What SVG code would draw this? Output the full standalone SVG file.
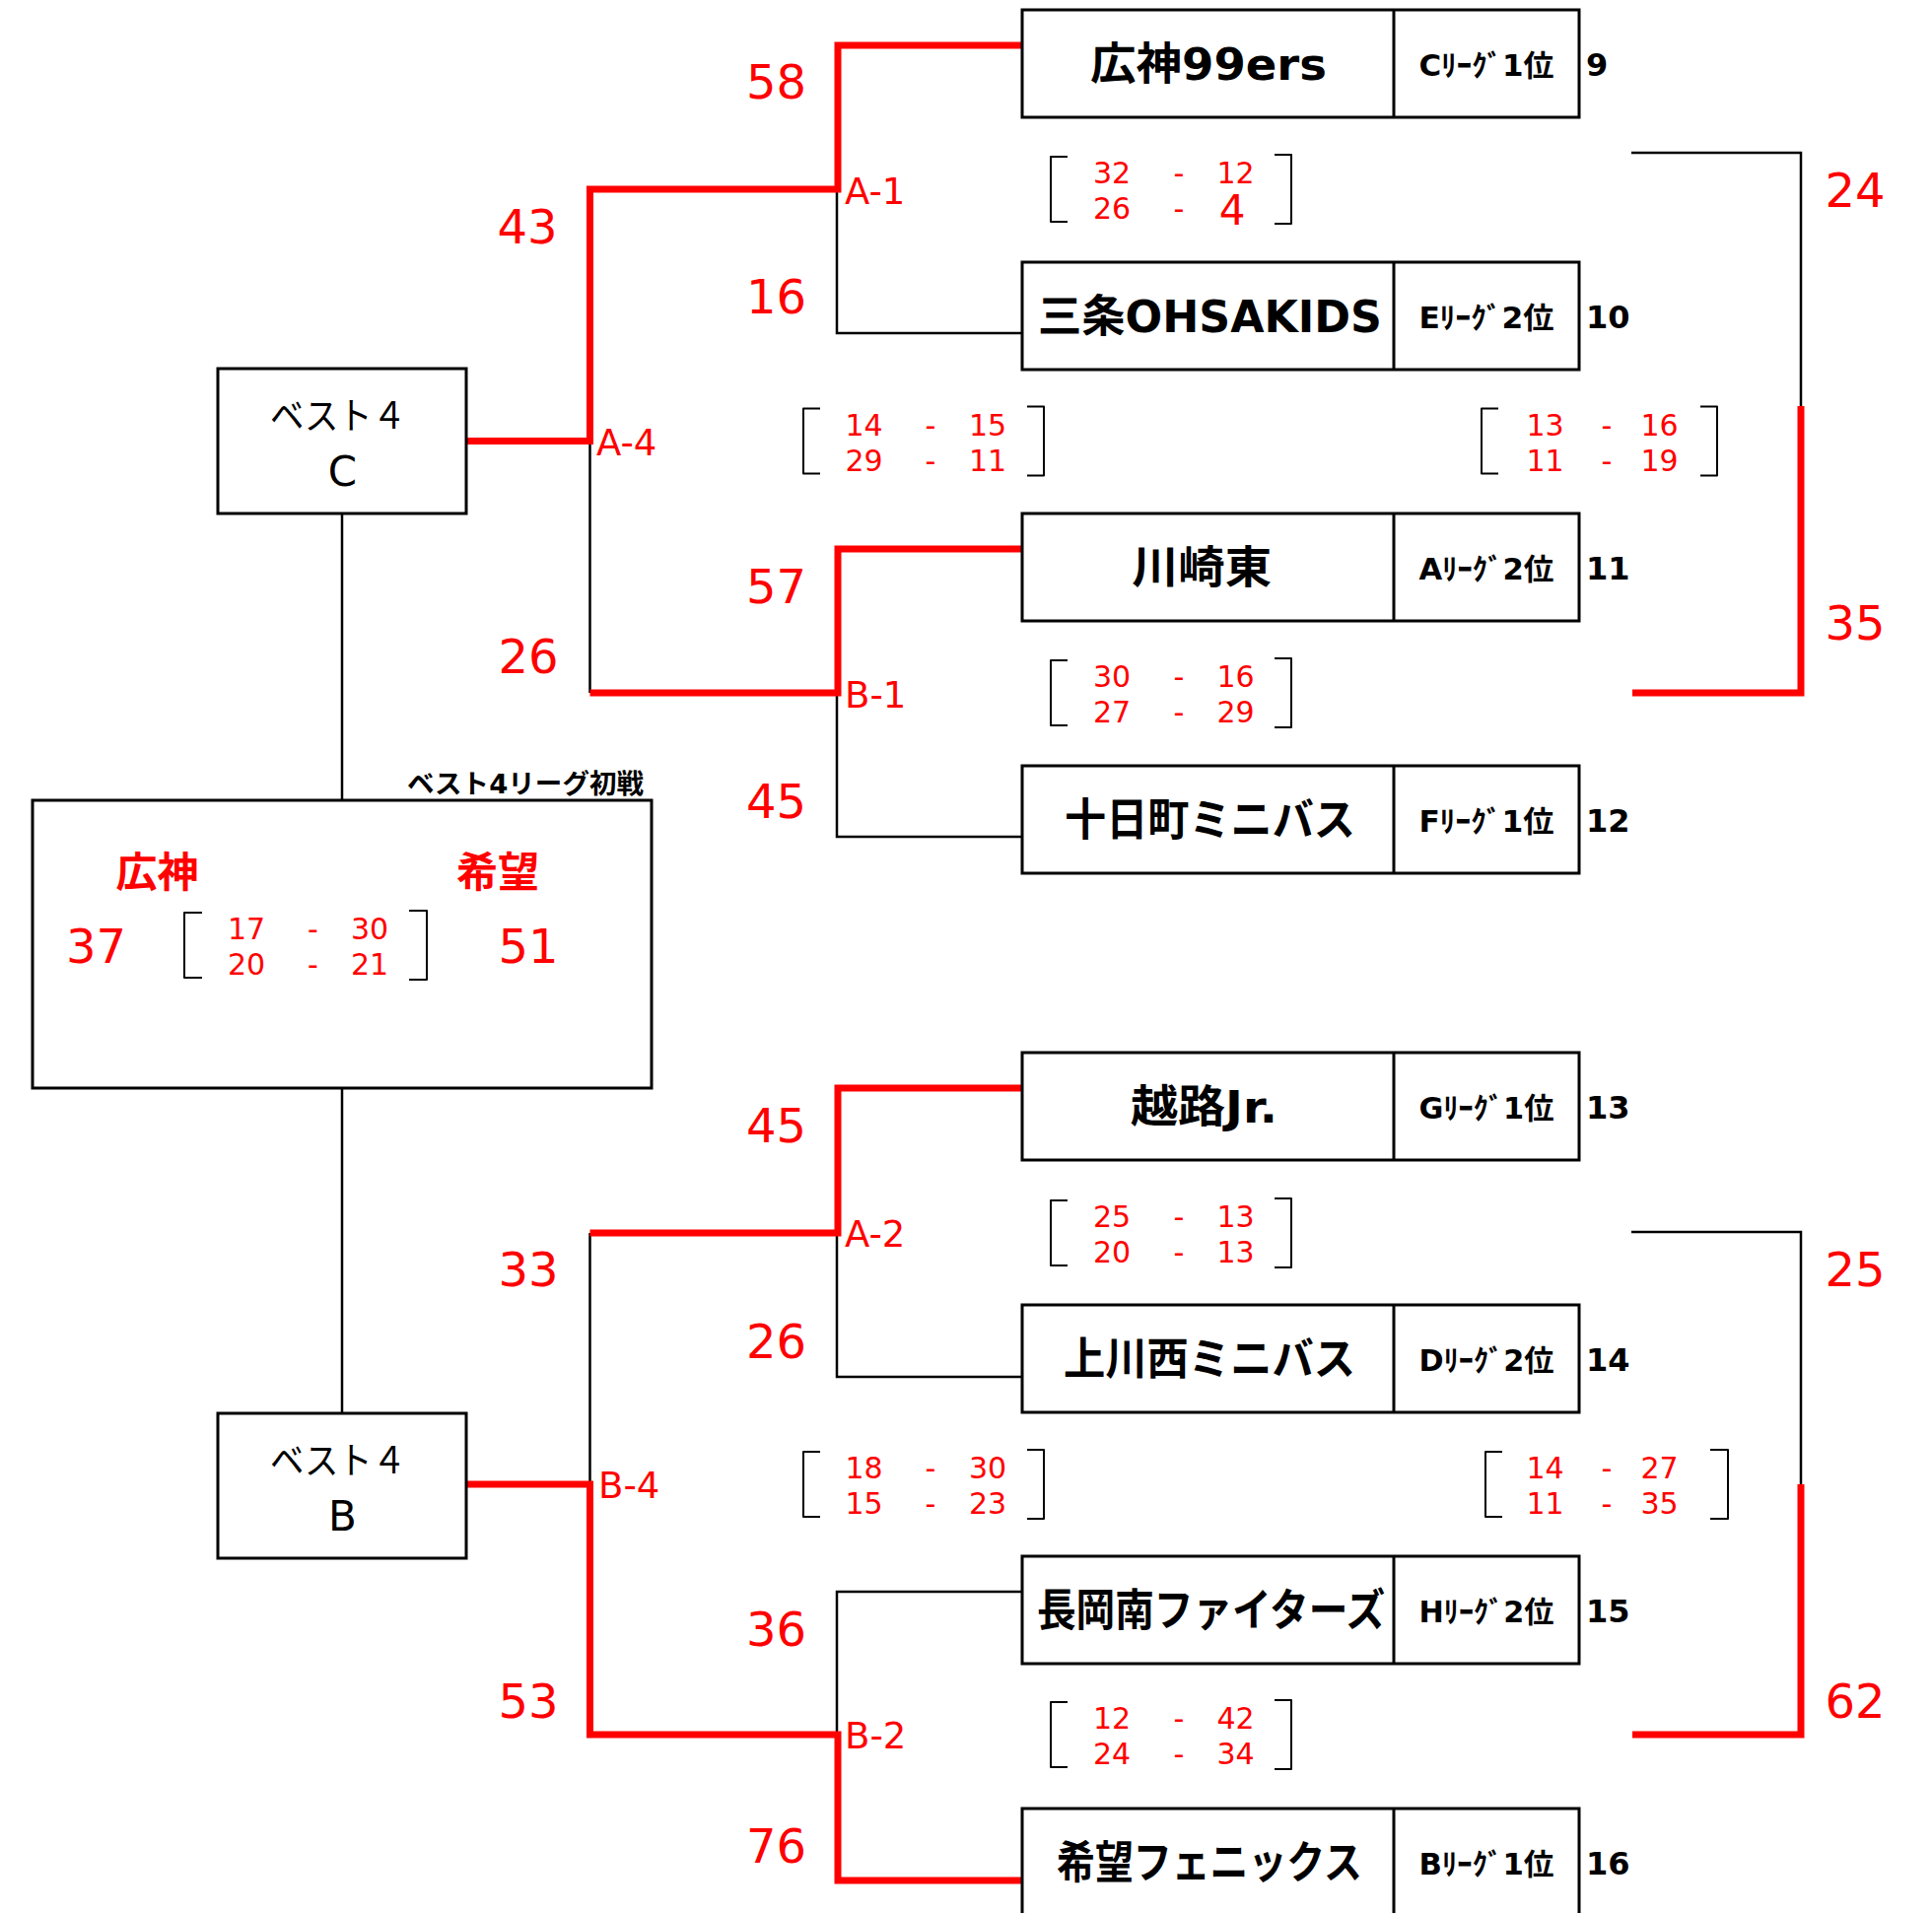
<svg xmlns="http://www.w3.org/2000/svg" width="1960" height="1941" viewBox="0 0 1960 1941">
<style>
.bk{stroke:#000;stroke-width:2.5;fill:none}
.rd{stroke:#f00;stroke-width:7;fill:none}
.box{fill:#fff;stroke:#000;stroke-width:3}
.dv{stroke:#000;stroke-width:3}
.br{fill:none;stroke:#000;stroke-width:2;stroke-linejoin:round}
text{font-family:"DejaVu Sans","Noto Sans CJK JP",sans-serif}
.name{font-weight:700;font-size:45px;text-anchor:middle;fill:#000}
.lg{font-weight:700;font-size:30px;text-anchor:middle;fill:#000}
.seed{font-weight:700;font-size:32px;fill:#000}
.sc{fill:#f00;font-size:30px;text-anchor:middle}
.big{fill:#f00;font-size:48px;text-anchor:middle}
.rl{fill:#f00;font-size:37px}
.b4{font-size:38px;fill:#000;font-family:"Noto Sans CJK JP","DejaVu Sans",sans-serif}
.b4l{font-size:42px;text-anchor:middle;fill:#000}
.rt{font-weight:700;font-size:42px;text-anchor:middle;fill:#f00;font-family:"Noto Sans CJK JP",sans-serif}
.hd{font-weight:700;font-size:27px;fill:#000}
</style>

<g id="connectors">
<path class="bk" d="M1037,338 H849 V192 M1037,849 H849 V703 M598.5,447.5 V703"/>
<path class="bk" d="M1037,1397 H849 V1251 M1037,1615 H849 V1760 M598.5,1251 V1506"/>
<path class="bk" d="M347,521 V812 M347,1104 V1434"/>
<path class="bk" d="M1655,155 H1827 V412 M1655,1250 H1827 V1506"/>
<path class="rd" d="M1037,46 H850 V192 H598.5 V447.5 H473"/>
<path class="rd" d="M1037,557 H850 V703 H598.5"/>
<path class="rd" d="M1037,1104 H850 V1251 H598.5"/>
<path class="rd" d="M1037,1908 H850 V1760 H598.5 V1506 H473"/>
<path class="rd" d="M1827,412 V703 H1656"/>
<path class="rd" d="M1827,1506 V1760 H1656"/>
</g>

<g id="team1"><rect class="box" x="1037" y="10" width="565" height="109"/><line class="dv" x1="1414" y1="10" x2="1414" y2="119"/>
<text class="name" x="1226" y="81" textLength="240" lengthAdjust="spacingAndGlyphs">広神99ers</text>
<text class="lg" x="1508" y="77" textLength="137" lengthAdjust="spacingAndGlyphs">Cﾘｰｸﾞ1位</text>
<text class="seed" x="1609" y="77">9</text></g>

<g id="team2"><rect class="box" x="1037" y="266" width="565" height="109"/><line class="dv" x1="1414" y1="266" x2="1414" y2="375"/>
<text class="name" x="1227.5" y="337" textLength="349" lengthAdjust="spacingAndGlyphs">三条OHSAKIDS</text>
<text class="lg" x="1508" y="333" textLength="137" lengthAdjust="spacingAndGlyphs">Eﾘｰｸﾞ2位</text>
<text class="seed" x="1609" y="333">10</text></g>

<g id="team3"><rect class="box" x="1037" y="521" width="565" height="109"/><line class="dv" x1="1414" y1="521" x2="1414" y2="630"/>
<text class="name" x="1219" y="592" textLength="142" lengthAdjust="spacingAndGlyphs">川崎東</text>
<text class="lg" x="1508" y="588" textLength="137" lengthAdjust="spacingAndGlyphs">Aﾘｰｸﾞ2位</text>
<text class="seed" x="1609" y="588">11</text></g>

<g id="team4"><rect class="box" x="1037" y="777" width="565" height="109"/><line class="dv" x1="1414" y1="777" x2="1414" y2="886"/>
<text class="name" x="1227.5" y="848" textLength="295" lengthAdjust="spacingAndGlyphs">十日町ミニバス</text>
<text class="lg" x="1508" y="844" textLength="137" lengthAdjust="spacingAndGlyphs">Fﾘｰｸﾞ1位</text>
<text class="seed" x="1609" y="844">12</text></g>

<g id="team5"><rect class="box" x="1037" y="1068" width="565" height="109"/><line class="dv" x1="1414" y1="1068" x2="1414" y2="1177"/>
<text class="name" x="1221.5" y="1139" textLength="149" lengthAdjust="spacingAndGlyphs">越路Jr.</text>
<text class="lg" x="1508" y="1135" textLength="137" lengthAdjust="spacingAndGlyphs">Gﾘｰｸﾞ1位</text>
<text class="seed" x="1609" y="1135">13</text></g>

<g id="team6"><rect class="box" x="1037" y="1324" width="565" height="109"/><line class="dv" x1="1414" y1="1324" x2="1414" y2="1433"/>
<text class="name" x="1227" y="1395" textLength="296" lengthAdjust="spacingAndGlyphs">上川西ミニバス</text>
<text class="lg" x="1508" y="1391" textLength="137" lengthAdjust="spacingAndGlyphs">Dﾘｰｸﾞ2位</text>
<text class="seed" x="1609" y="1391">14</text></g>

<g id="team7"><rect class="box" x="1037" y="1579" width="565" height="109"/><line class="dv" x1="1414" y1="1579" x2="1414" y2="1688"/>
<text class="name" x="1228.5" y="1650" textLength="353" lengthAdjust="spacingAndGlyphs">長岡南ファイターズ</text>
<text class="lg" x="1508" y="1646" textLength="137" lengthAdjust="spacingAndGlyphs">Hﾘｰｸﾞ2位</text>
<text class="seed" x="1609" y="1646">15</text></g>

<g id="team8"><rect class="box" x="1037" y="1835" width="565" height="109"/><line class="dv" x1="1414" y1="1835" x2="1414" y2="1944"/>
<text class="name" x="1227" y="1906" textLength="310" lengthAdjust="spacingAndGlyphs">希望フェニックス</text>
<text class="lg" x="1508" y="1902" textLength="137" lengthAdjust="spacingAndGlyphs">Bﾘｰｸﾞ1位</text>
<text class="seed" x="1609" y="1902">16</text></g>

<g id="best4C"><rect class="box" x="221" y="374" width="252" height="147"/>
<text class="b4" x="274" y="435" textLength="138" lengthAdjust="spacingAndGlyphs">ベスト４</text><text class="b4l" x="347.5" y="493">C</text></g>

<g id="best4B"><rect class="box" x="221" y="1434" width="252" height="147"/>
<text class="b4" x="274" y="1495" textLength="138" lengthAdjust="spacingAndGlyphs">ベスト４</text><text class="b4l" x="347.5" y="1553">B</text></g>

<g id="league">
<text class="hd" x="413" y="805" textLength="240" lengthAdjust="spacingAndGlyphs">ベスト4リーグ初戦</text>
<rect class="box" x="33" y="812" width="628" height="292"/>
<text class="rt" x="159.5" y="900">広神</text>
<text class="rt" x="505" y="900">希望</text>
<text class="big" x="97.5" y="977">37</text>
<text class="big" x="536" y="977">51</text>
<path class="br" d="M205,926 H187 V992 H205 M415,924 H433 V994 H415"/>
<text class="sc" x="250" y="953">17</text><text class="sc" x="317.5" y="953">-</text><text class="sc" x="375" y="953">30</text>
<text class="sc" x="250" y="989">20</text><text class="sc" x="317.5" y="989">-</text><text class="sc" x="375" y="989">21</text>
</g>

<g id="scoresA1">
<path class="br" d="M1083,159 H1066 V225 H1083 M1293,157 H1310 V227 H1293"/>
<text class="sc" x="1128" y="186">32</text><text class="sc" x="1196" y="186">-</text><text class="sc" x="1253.5" y="186">12</text>
<text class="sc" x="1128" y="222">26</text><text class="sc" x="1196" y="222">-</text><text class="sc" x="1250" y="228" style="font-size:42px">4</text>
</g>

<g id="scoresB1">
<path class="br" d="M1083,670 H1066 V736 H1083 M1293,668 H1310 V738 H1293"/>
<text class="sc" x="1128" y="697">30</text><text class="sc" x="1196" y="697">-</text><text class="sc" x="1253.5" y="697">16</text>
<text class="sc" x="1128" y="733">27</text><text class="sc" x="1196" y="733">-</text><text class="sc" x="1253.5" y="733">29</text>
</g>

<g id="scoresA2">
<path class="br" d="M1083,1218 H1066 V1284 H1083 M1293,1216 H1310 V1286 H1293"/>
<text class="sc" x="1128" y="1245">25</text><text class="sc" x="1196" y="1245">-</text><text class="sc" x="1253.5" y="1245">13</text>
<text class="sc" x="1128" y="1281">20</text><text class="sc" x="1196" y="1281">-</text><text class="sc" x="1253.5" y="1281">13</text>
</g>

<g id="scoresB2">
<path class="br" d="M1083,1727 H1066 V1793 H1083 M1293,1725 H1310 V1795 H1293"/>
<text class="sc" x="1128" y="1754">12</text><text class="sc" x="1196" y="1754">-</text><text class="sc" x="1253.5" y="1754">42</text>
<text class="sc" x="1128" y="1790">24</text><text class="sc" x="1196" y="1790">-</text><text class="sc" x="1253.5" y="1790">34</text>
</g>

<g id="scoresA4">
<path class="br" d="M832,414.5 H815 V480.5 H832 M1042,412.5 H1059 V482.5 H1042"/>
<text class="sc" x="876.5" y="441.5">14</text><text class="sc" x="944" y="441.5">-</text><text class="sc" x="1002" y="441.5">15</text>
<text class="sc" x="876.5" y="477.5">29</text><text class="sc" x="944" y="477.5">-</text><text class="sc" x="1002" y="477.5">11</text>
</g>

<g id="scoresTopFinal">
<path class="br" d="M1520,414.5 H1503 V480.5 H1520 M1725,412.5 H1742 V482.5 H1725"/>
<text class="sc" x="1567.5" y="441.5">13</text><text class="sc" x="1630" y="441.5">-</text><text class="sc" x="1683.5" y="441.5">16</text>
<text class="sc" x="1567.5" y="477.5">11</text><text class="sc" x="1630" y="477.5">-</text><text class="sc" x="1683.5" y="477.5">19</text>
</g>

<g id="scoresB4">
<path class="br" d="M832,1473 H815 V1539 H832 M1042,1471 H1059 V1541 H1042"/>
<text class="sc" x="876.5" y="1500">18</text><text class="sc" x="944" y="1500">-</text><text class="sc" x="1002" y="1500">30</text>
<text class="sc" x="876.5" y="1536">15</text><text class="sc" x="944" y="1536">-</text><text class="sc" x="1002" y="1536">23</text>
</g>

<g id="scoresBottomFinal">
<path class="br" d="M1524,1473 H1507 V1539 H1524 M1735,1471 H1753 V1541 H1735"/>
<text class="sc" x="1567.5" y="1500">14</text><text class="sc" x="1630" y="1500">-</text><text class="sc" x="1683.5" y="1500">27</text>
<text class="sc" x="1567.5" y="1536">11</text><text class="sc" x="1630" y="1536">-</text><text class="sc" x="1683.5" y="1536">35</text>
</g>

<g id="roundLabels">
<text class="rl" x="857" y="207">A-1</text>
<text class="rl" x="857" y="718">B-1</text>
<text class="rl" x="857" y="1265">A-2</text>
<text class="rl" x="857" y="1774">B-2</text>
<text class="rl" x="605" y="462">A-4</text>
<text class="rl" x="607" y="1520">B-4</text>
</g>

<g id="gameScores">
<text class="big" x="787.5" y="100">58</text>
<text class="big" x="787.5" y="318">16</text>
<text class="big" x="535" y="247">43</text>
<text class="big" x="536" y="683">26</text>
<text class="big" x="787.5" y="612">57</text>
<text class="big" x="787.5" y="830">45</text>
<text class="big" x="787.5" y="1159">45</text>
<text class="big" x="536" y="1305">33</text>
<text class="big" x="787.5" y="1378">26</text>
<text class="big" x="787.5" y="1670">36</text>
<text class="big" x="536" y="1743">53</text>
<text class="big" x="787.5" y="1890">76</text>
<text class="big" x="1882" y="210">24</text>
<text class="big" x="1882" y="649">35</text>
<text class="big" x="1882" y="1305">25</text>
<text class="big" x="1882" y="1743">62</text>
</g>
</svg>
